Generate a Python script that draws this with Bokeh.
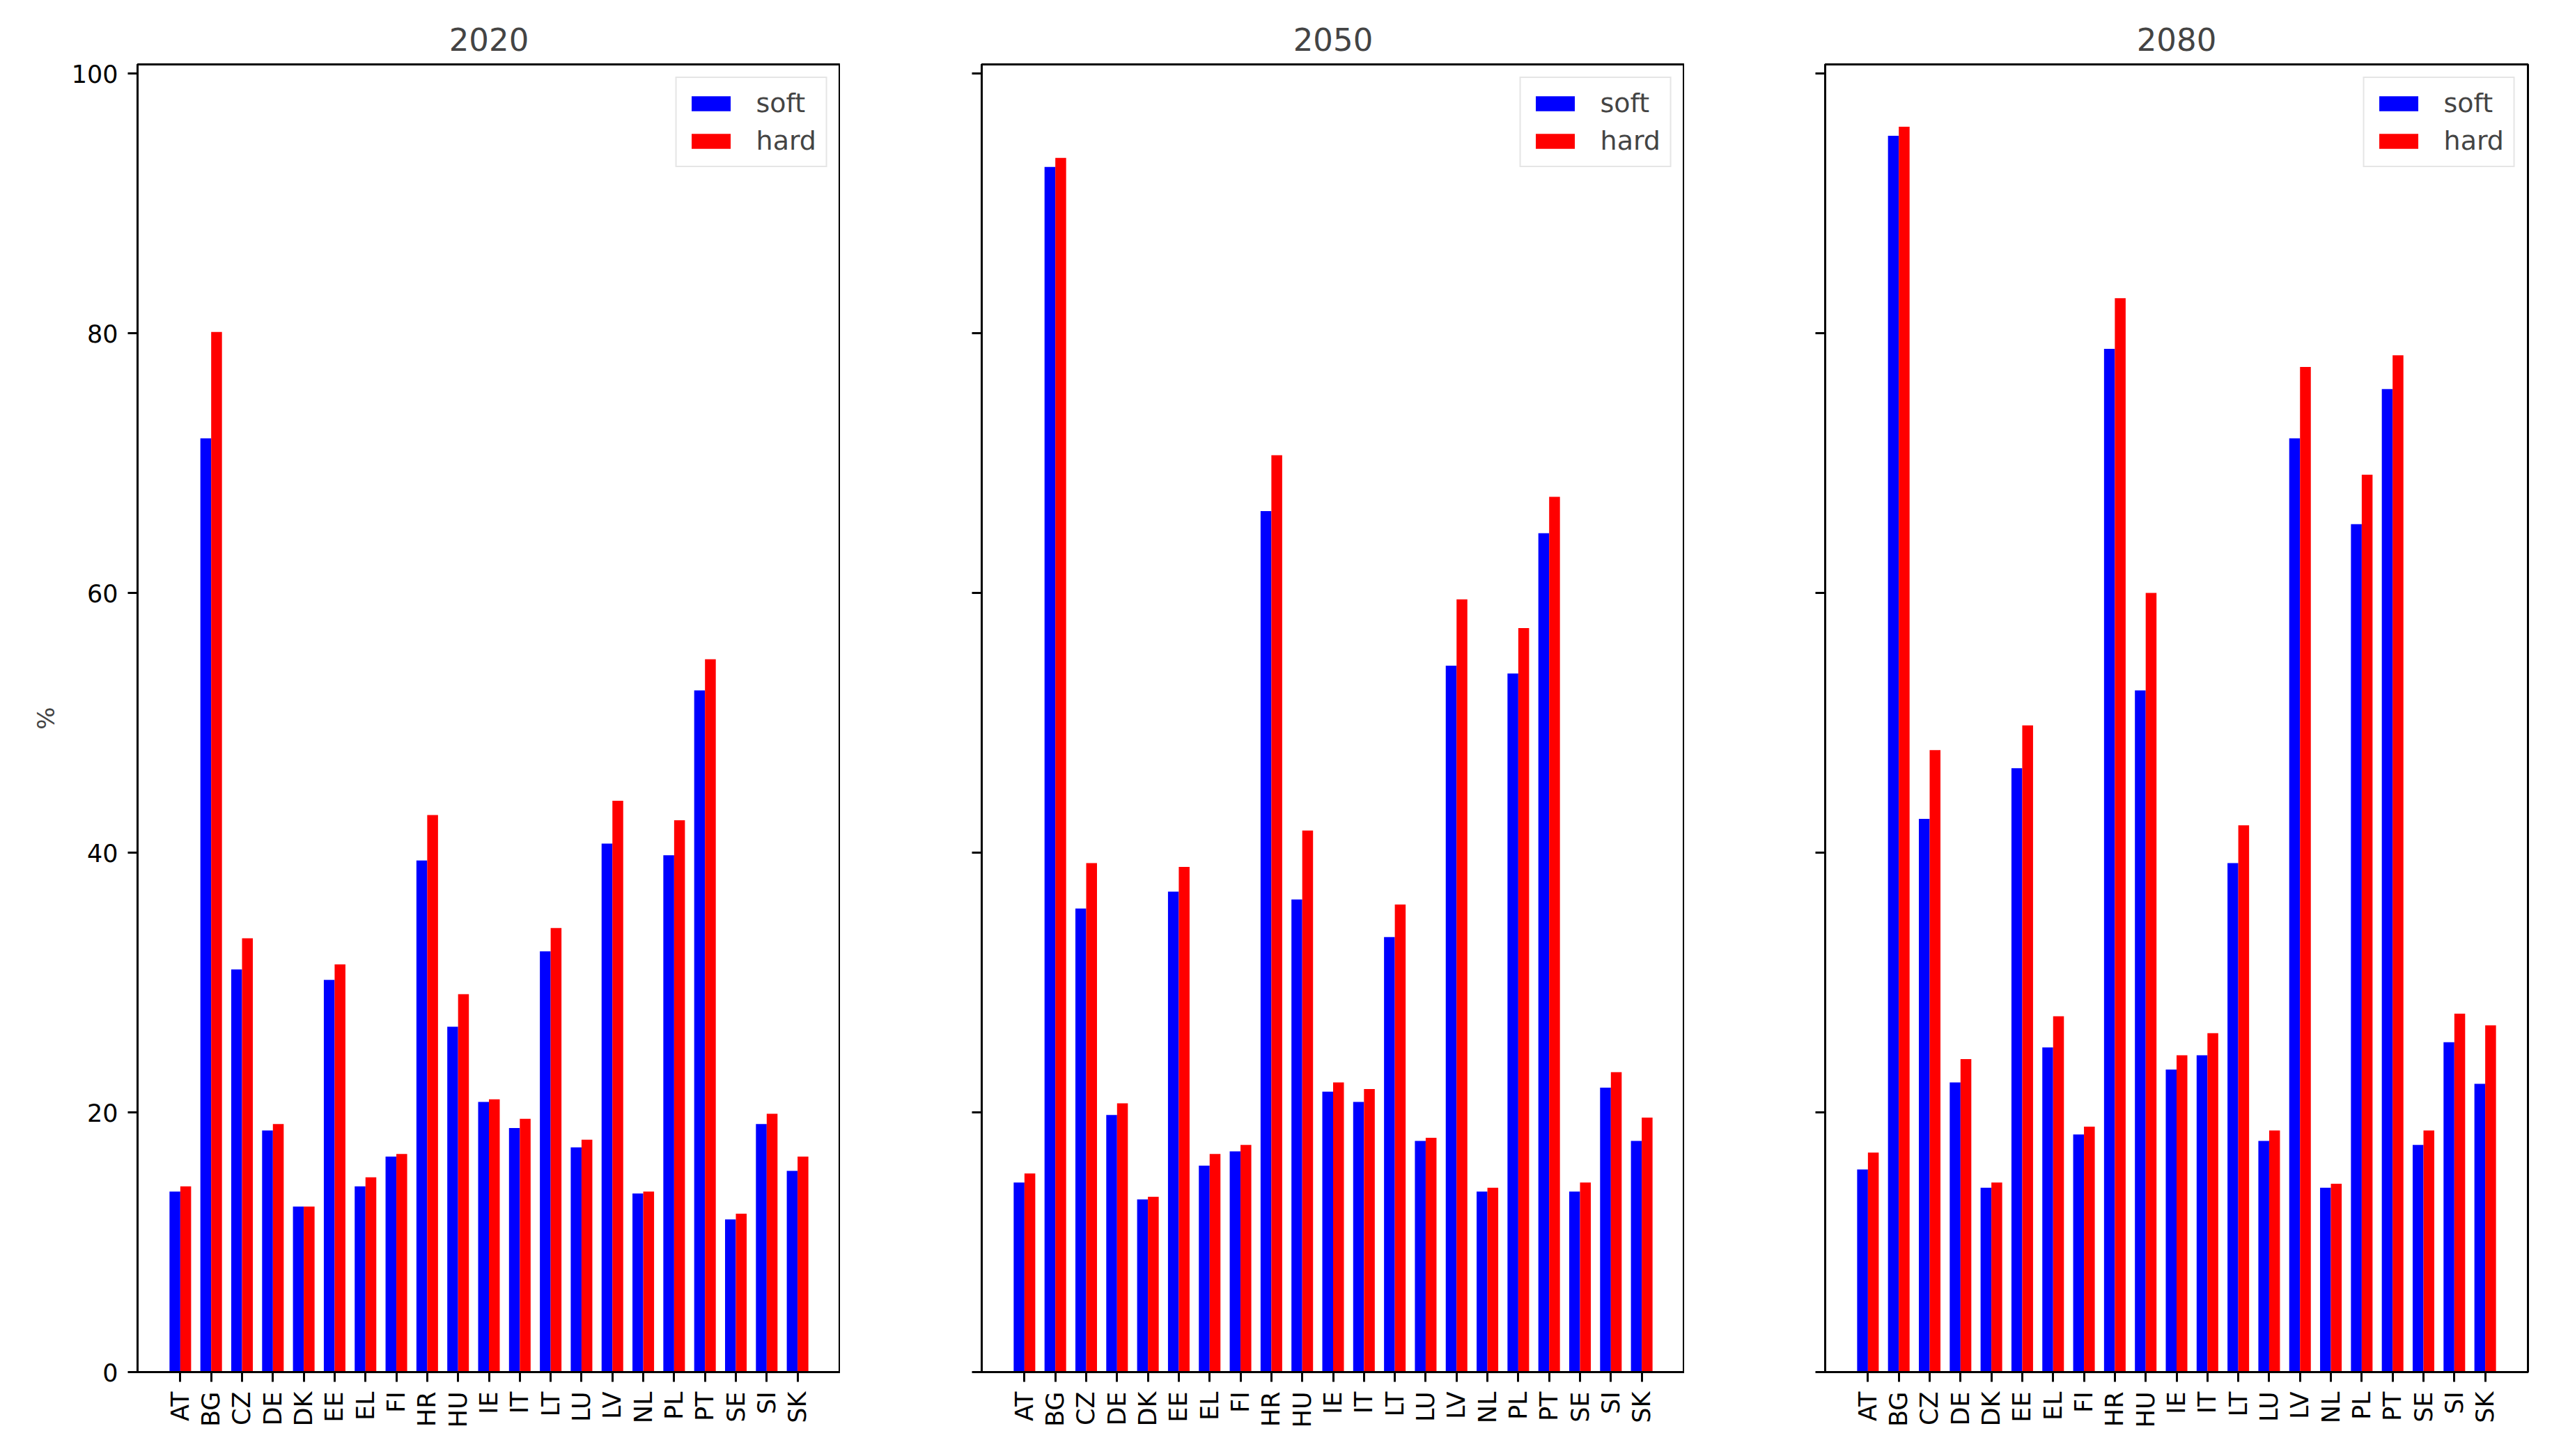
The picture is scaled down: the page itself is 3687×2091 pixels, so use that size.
import math
from bokeh.plotting import figure
from bokeh.models import Range1d, FixedTicker, Legend, LegendItem, ColumnDataSource
from bokeh.layouts import row
from bokeh.embed import file_html
from bokeh.resources import INLINE

countries = ["AT", "BG", "CZ", "DE", "DK", "EE", "EL", "FI", "HR", "HU", "IE",
             "IT", "LT", "LU", "LV", "NL", "PL", "PT", "SE", "SI", "SK"]
years = ["2020", "2050", "2080"]

soft_2020 = [13.9, 71.9, 31.0, 18.6, 12.75, 30.2, 14.3, 16.6, 39.4, 26.6, 20.8,
             18.8, 32.4, 17.3, 40.7, 13.75, 39.8, 52.5, 11.75, 19.1, 15.5]
hard_2020 = [14.3, 80.1, 33.4, 19.1, 12.75, 31.4, 15.0, 16.8, 42.9, 29.1, 21.0,
             19.5, 34.2, 17.9, 44.0, 13.9, 42.5, 54.9, 12.2, 19.9, 16.6]
soft_2050 = [14.6, 92.8, 35.7, 19.8, 13.3, 37.0, 15.9, 17.0, 66.3, 36.4, 21.6,
             20.8, 33.5, 17.8, 54.4, 13.9, 53.8, 64.6, 13.9, 21.9, 17.8]
hard_2050 = [15.3, 93.5, 39.2, 20.7, 13.5, 38.9, 16.8, 17.5, 70.6, 41.7, 22.3,
             21.8, 36.0, 18.05, 59.5, 14.2, 57.3, 67.4, 14.6, 23.1, 19.6]
soft_2080 = [15.6, 95.2, 42.6, 22.3, 14.2, 46.5, 25.0, 18.3, 78.8, 52.5, 23.3,
             24.4, 39.2, 17.8, 71.9, 14.2, 65.3, 75.7, 17.5, 25.4, 22.2]
hard_2080 = [16.9, 95.9, 47.9, 24.1, 14.6, 49.8, 27.4, 18.9, 82.7, 60.0, 24.4,
             26.1, 42.1, 18.6, 77.4, 14.5, 69.1, 78.3, 18.6, 27.6, 26.7]

series = [(soft_2020, hard_2020), (soft_2050, hard_2050), (soft_2080, hard_2080)]
y_ticks = [0, 20, 40, 60, 80, 100]

FONT = "DejaVu Sans"
BAR_W = 0.35
FRAME_W = 1009
FRAME_H = 1878
borders_left = [197, 203, 202]
borders_right = [0, 0, 40]

figs = []
for i, (year, (soft, hard)) in enumerate(zip(years, series)):
    idx = list(range(len(countries)))
    src = ColumnDataSource(dict(
        xs=[k - BAR_W / 2 for k in idx],
        xh=[k + BAR_W / 2 for k in idx],
        soft=soft, hard=hard))
    p = figure(title=year, output_backend="svg", toolbar_location=None,
               frame_width=FRAME_W, frame_height=FRAME_H,
               min_border_left=borders_left[i], min_border_right=borders_right[i],
               min_border_top=92, min_border_bottom=85,
               x_range=Range1d(-1.385, 21.385), y_range=Range1d(0, 100.7))
    r1 = p.vbar(x="xs", top="soft", width=BAR_W, bottom=0, source=src,
                fill_color="#0000ff", line_color=None)
    r2 = p.vbar(x="xh", top="hard", width=BAR_W, bottom=0, source=src,
                fill_color="#ff0000", line_color=None)

    p.title.text_font = FONT
    p.title.text_font_size = "45px"
    p.title.text_font_style = "normal"
    p.title.align = "center"
    p.title.standoff = 40

    p.xgrid.visible = False
    p.ygrid.visible = False
    p.outline_line_color = "black"
    p.outline_line_width = 3

    p.xaxis.ticker = FixedTicker(ticks=list(range(len(countries))))
    p.xaxis.major_label_overrides = {k: c for k, c in enumerate(countries)}
    p.xaxis.major_label_orientation = math.pi / 2
    p.yaxis.ticker = FixedTicker(ticks=y_ticks)
    p.xaxis.minor_tick_line_color = None
    p.yaxis.minor_tick_line_color = None
    for ax in (p.xaxis, p.yaxis):
        ax.axis_line_width = 3
        ax.major_tick_line_width = 3
        ax.major_tick_out = 14
        ax.major_tick_in = 0
        ax.major_label_text_font = FONT
        ax.major_label_text_font_size = "35px"
        ax.major_label_text_color = "black"
        ax.major_label_standoff = 14
    if i == 0:
        p.yaxis.axis_label = "%"
        p.yaxis.axis_label_text_font = FONT
        p.yaxis.axis_label_text_font_size = "34px"
        p.yaxis.axis_label_text_font_style = "normal"
        p.yaxis.axis_label_standoff = 14
    else:
        p.yaxis.major_label_overrides = {t: "" for t in y_ticks}

    legend = Legend(items=[LegendItem(label="soft", renderers=[r1]),
                           LegendItem(label="hard", renderers=[r2])],
                    location="top_right")
    legend.label_text_font = FONT
    legend.label_text_font_size = "38px"
    legend.glyph_width = 70
    legend.glyph_height = 27
    legend.label_standoff = 30
    legend.padding = 14
    legend.spacing = 10
    legend.margin = 18
    legend.border_line_color = "#cccccc"
    legend.border_line_width = 2
    legend.background_fill_color = "white"
    legend.background_fill_alpha = 1.0
    p.add_layout(legend)
    figs.append(p)

layout = row(*figs)
open("out.html", "w").write(file_html(layout, INLINE))
